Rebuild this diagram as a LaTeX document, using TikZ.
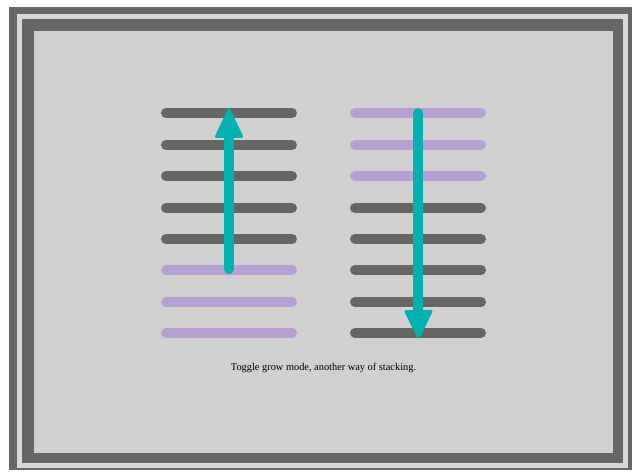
\documentclass[tikz,border=0pt]{standalone}
\usepackage{fontspec}
\setmainfont{Liberation Serif}
\definecolor{framedark}{HTML}{666666}
\definecolor{paneltone}{HTML}{D0D0D0}
\definecolor{stripe}{HTML}{D8D8D8}
\definecolor{barpurple}{HTML}{B59FD3}
\definecolor{arrowteal}{HTML}{00B3B0}
\tikzset{
  bar/.style={line width=10bp, line cap=round},
  darkbar/.style={bar, draw=framedark},
  purplebar/.style={bar, draw=barpurple},
  shaft/.style={line width=10bp, line cap=round, draw=arrowteal},
  headtip/.style={fill=arrowteal, draw=arrowteal, line width=3bp, line join=round},
}
\begin{document}
\begin{tikzpicture}[x=1bp, y=-1bp]
\useasboundingbox (0,0) rectangle (636,472);
\fill[white] (0,0) rectangle (636,472);
% frame
\fill[framedark] (9,7) rectangle (632,470);
\draw[stripe, line width=5bp] (19.5,16.5) rectangle (625.5,465);
\fill[paneltone] (34,31) rectangle (613,453);
% left column
\foreach \y [count=\i] in {113,145,176,208,239,270,302,333} {
  \ifnum\i<6
    \draw[darkbar] (166,\y) -- (292,\y);
  \else
    \draw[purplebar] (166,\y) -- (292,\y);
  \fi
}
% right column
\foreach \y [count=\i] in {113,145,176,208,239,270,302,333} {
  \ifnum\i<4
    \draw[purplebar] (355,\y) -- (481,\y);
  \else
    \draw[darkbar] (355,\y) -- (481,\y);
  \fi
}
% left arrow (up)
\coordinate (upstart) at (229,269);
\coordinate (upend) at (229,130);
\draw[shaft] (upstart) -- (upend);
\filldraw[headtip] (229,110) -- (241.5,136.5) -- (216.5,136.5) -- cycle;
% right arrow (down)
\coordinate (downstart) at (418,113);
\coordinate (downend) at (418,314);
\draw[shaft] (downstart) -- (downend);
\filldraw[headtip] (418.5,337) -- (431,311.5) -- (406,311.5) -- cycle;
% caption
\node[font=\fontsize{10.4}{12}\selectfont, text=black] (caption) at (323.5,368) {Toggle grow mode, another way of stacking.};
\end{tikzpicture}
\end{document}
